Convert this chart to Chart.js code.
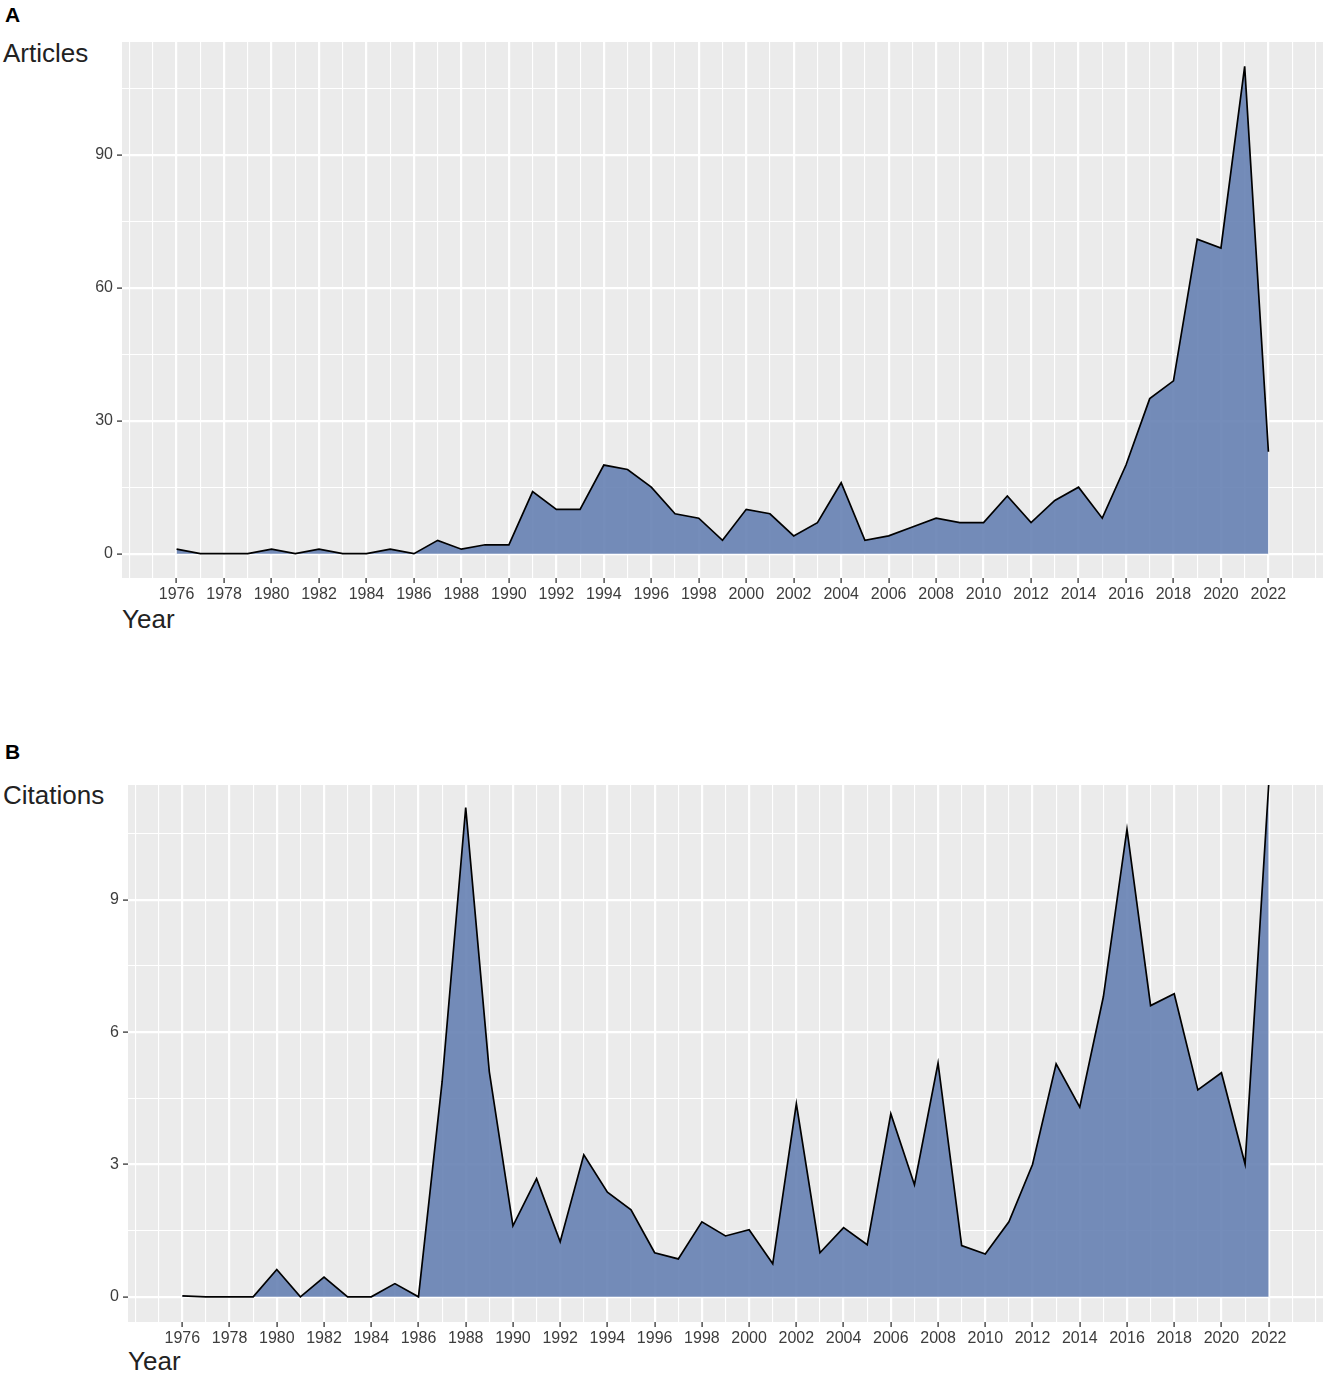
<!DOCTYPE html>
<html>
<head>
<meta charset="utf-8">
<script src="https://cdn.jsdelivr.net/npm/chart.js@4.4.0/dist/chart.umd.min.js"></script>
<style>
  html, body { margin: 0; padding: 0; background: #ffffff; }
  body { width: 1325px; height: 1373px; position: relative; overflow: hidden; font-family: "Liberation Sans", Arial, sans-serif; }
  .lbl { position: absolute; white-space: nowrap; color: #1a1a1a; }
  .tag { font-weight: bold; font-size: 21px; line-height: 21px; color: #000; }
  .ttl { font-size: 26px; line-height: 26px; color: #222; }
  .box { position: absolute; }
</style>
</head>
<body>
<div class="lbl tag" style="left:5px; top:4px;">A</div>
<div class="lbl ttl" style="left:3px; top:40px;">Articles</div>
<div class="lbl ttl" style="left:122px; top:606px;">Year</div>
<div class="box" id="boxA" style="left:0px; top:42px; width:1325px; height:566px;"><canvas id="chartA"></canvas></div>

<div class="lbl tag" style="left:5px; top:741px;">B</div>
<div class="lbl ttl" style="left:3px; top:782px;">Citations</div>
<div class="lbl ttl" style="left:128px; top:1348px;">Year</div>
<div class="box" id="boxB" style="left:0px; top:785px; width:1325px; height:567px;"><canvas id="chartB"></canvas></div>

<script>
// ---- Data ----
const years = [1976,1977,1978,1979,1980,1981,1982,1983,1984,1985,1986,1987,1988,1989,1990,
  1991,1992,1993,1994,1995,1996,1997,1998,1999,2000,2001,2002,2003,2004,2005,2006,2007,2008,
  2009,2010,2011,2012,2013,2014,2015,2016,2017,2018,2019,2020,2021,2022];

const articles = [1,0,0,0,1,0,1,0,0,1,0,3,1,2,2,
  14,10,10,20,19,15,9,8,3,10,9,4,7,16,3,4,6,8,
  7,7,13,7,12,15,8,20,35,39,71,69,110,23];

const citations = [0.02,0,0,0,0.62,0,0.45,0,0,0.3,0,4.87,11.09,5.1,1.61,
  2.68,1.25,3.22,2.37,1.97,1.0,0.86,1.7,1.38,1.52,0.75,4.38,1.0,1.57,1.18,4.15,2.54,5.3,
  1.16,0.97,1.7,3.0,5.28,4.3,6.8,10.6,6.6,6.87,4.69,5.08,3.01,11.6];

const xTickLabels = ["1976","1978","1980","1982","1984","1986","1988","1990","1992","1994",
  "1996","1998","2000","2002","2004","2006","2008","2010","2012","2014","2016","2018","2020","2022"];
const articleTickLabels = ["0","30","60","90"];
const citationTickLabels = ["0","3","6","9"];

// ---- Helpers ----
const FONT = "'Liberation Sans', Arial, sans-serif";
const xGridValues = [];
for (let v = 1974; v <= 2024; v++) xGridValues.push(v);

const panelBg = {
  id: 'panelBg',
  beforeDraw(chart) {
    const a = chart.chartArea, c = chart.ctx;
    c.save();
    c.fillStyle = '#EBEBEB';
    c.fillRect(a.left, a.top, a.right - a.left, a.bottom - a.top);
    c.restore();
  }
};

function makeChart(id, values, yMin, yMax, yStep, yLabels, yAxisWidth) {
  const yGrid = [];
  for (let v = 0; v <= yMax + 1e-9; v += yStep / 2) yGrid.push(Math.round(v * 100) / 100);
  const isMajorY = v => yLabels.includes(String(v));
  const isMajorX = v => xTickLabels.includes(String(v));
  return new Chart(document.getElementById(id), {
    type: 'line',
    data: {
      datasets: [{
        data: years.map((y, i) => ({ x: y, y: values[i] })),
        borderColor: '#000000',
        borderWidth: 1.7,
        backgroundColor: 'rgba(102,129,178,0.9)',
        fill: 'origin',
        pointRadius: 0,
        tension: 0
      }]
    },
    options: {
      responsive: true,
      maintainAspectRatio: false,
      animation: false,
      layout: { padding: { left: 0, right: 2, top: 0, bottom: 0 } },
      plugins: { legend: { display: false }, tooltip: { enabled: false } },
      scales: {
        x: {
          type: 'linear',
          min: 1973.7,
          max: 2024.3,
          afterBuildTicks: ax => { ax.ticks = xGridValues.map(v => ({ value: v })); },
          afterFit: ax => { ax.height = 30; ax.paddingLeft = 0; ax.paddingRight = 0; },
          border: { display: false },
          grid: {
            color: '#ffffff',
            lineWidth: ctx => (ctx.tick && isMajorX(ctx.tick.value)) ? 2.2 : 1.1,
            tickLength: 5,
            tickWidth: 1.3,
            tickColor: ctx => (ctx.tick && isMajorX(ctx.tick.value)) ? '#333333' : 'rgba(0,0,0,0)'
          },
          ticks: {
            autoSkip: false,
            maxRotation: 0,
            padding: 2,
            color: '#3d3d3d',
            font: { family: FONT, size: 16 },
            callback: v => isMajorX(v) ? String(v) : ''
          }
        },
        y: {
          type: 'linear',
          min: yMin,
          max: yMax,
          afterBuildTicks: ax => { ax.ticks = yGrid.map(v => ({ value: v })); },
          afterFit: ax => { ax.width = yAxisWidth; ax.paddingTop = 0; ax.paddingBottom = 0; },
          border: { display: false },
          grid: {
            color: '#ffffff',
            lineWidth: ctx => (ctx.tick && isMajorY(ctx.tick.value)) ? 2.2 : 1.1,
            tickLength: 5,
            tickWidth: 1.3,
            tickColor: ctx => (ctx.tick && isMajorY(ctx.tick.value)) ? '#333333' : 'rgba(0,0,0,0)'
          },
          ticks: {
            autoSkip: false,
            padding: 4,
            color: '#3d3d3d',
            font: { family: FONT, size: 16 },
            callback: v => isMajorY(v) ? String(v) : ''
          }
        }
      }
    },
    plugins: [panelBg]
  });
}

makeChart('chartA', articles, -5.5, 115.5, 30, articleTickLabels, 122);
makeChart('chartB', citations, -0.57, 11.6, 3, citationTickLabels, 128);
</script>
</body>
</html>
